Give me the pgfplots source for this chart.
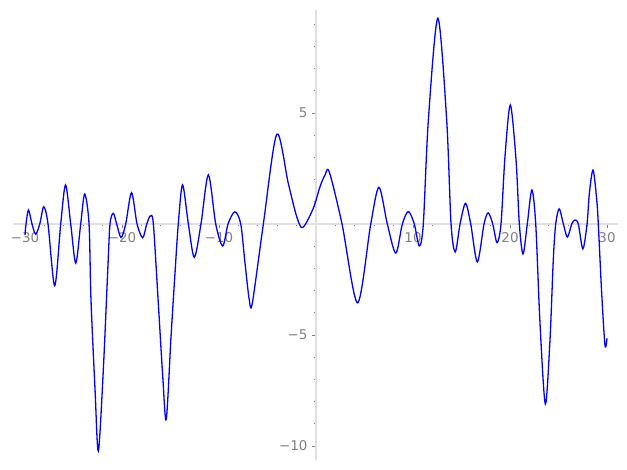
\documentclass[border=0pt]{standalone}
\usepackage{pgfplots}
\pgfplotsset{compat=1.18}
\usepackage{fontspec}
\setmainfont{DejaVu Sans}
\begin{document}
\begin{tikzpicture}
\begin{axis}[
  scale only axis, width=605.6bp, height=450bp,
  xmin=-31.26, xmax=31.17, ymin=-10.63, ymax=9.64,
  axis lines=middle,
  axis line style={draw=black!12, line width=1.2bp, -},
  every inner x axis line/.append style={-},
  every inner y axis line/.append style={-},
  xtick={-30,-20,-10,10,20,30}, xticklabels={−30,−20,−10,10,20,30},
  ytick={-10,-5,5}, yticklabels={−10,−5,5},
  minor xtick={-30,-28,...,30}, minor ytick={-10,-9,...,9},
  tick align=outside,
  major tick length=4bp, minor tick length=2.5bp,
  tick style={draw=gray, line width=0.7bp},
  ticklabel style={font=\fontsize{13.5}{15}\selectfont, text=gray},
  xticklabel style={yshift=-1.5bp},
  yticklabel style={xshift=-1bp},
  clip=false,
]
\path (axis cs:-32.58,-11.08) rectangle (axis cs:32.06,10.09);
\addplot[blue, line width=1.3bp, smooth, tension=0.5] coordinates {
(-30.00,-0.50) (-29.90,0) (-29.64,0.63) (-29.28,0) (-28.90,-0.46) (-28.48,0)
(-28.07,0.78) (-27.63,0) (-26.94,-2.78) (-26.32,0) (-25.82,1.76) (-25.29,0)
(-24.77,-1.76) (-24.26,0) (-23.85,1.35) (-23.40,0) (-23.20,-3.42) (-22.78,-7.48)
(-22.44,-10.23) (-21.93,-6.58) (-21.47,-2.07) (-21.24,0) (-20.90,0.48) (-20.55,0)
(-20.10,-0.61) (-19.62,0) (-19.02,1.41) (-18.45,0) (-17.87,-0.62) (-17.45,0)
(-17.08,0.36) (-16.77,0) (-16.26,-3.57) (-15.80,-6.88) (-15.44,-8.80) (-14.95,-5.08)
(-14.54,-2.22) (-14.20,0) (-13.76,1.76) (-13.16,0) (-12.55,-1.50) (-11.86,0)
(-11.10,2.21) (-10.34,0) (-9.62,-0.99) (-9.07,0) (-8.37,0.55) (-7.76,0)
(-7.32,-1.77) (-6.88,-3.42) (-6.57,-3.57) (-5.43,0) (-4.05,4.04) (-2.86,1.83)
(-1.99,0.33) (-1.37,-0.16) (-0.28,0.71) (0.41,1.68) (0.93,2.21) (1.37,2.34)
(2.68,0) (4.28,-3.55) (5.64,0) (6.49,1.65) (7.35,0) (8.22,-1.31)
(8.90,0) (9.52,0.56) (10.13,0) (10.65,-0.99) (11.06,0) (11.58,4.68)
(12.56,9.27) (13.47,4.68) (13.92,0) (14.35,-1.26) (14.85,0) (15.41,0.93)
(15.95,0) (16.63,-1.71) (17.32,0) (17.75,0.50) (18.22,0) (18.66,-0.84)
(19.07,0) (19.48,3.03) (20.03,5.36) (20.62,2.88) (20.96,0) (21.34,-1.35)
(21.78,0) (22.25,1.53) (22.65,0) (23.09,-4.47) (23.64,-8.11) (24.12,-5.22)
(24.46,-1.62) (24.71,0) (25.07,0.68) (25.50,0) (25.91,-0.59) (26.36,0)
(26.68,0.18) (27.04,0) (27.51,-1.12) (27.94,0) (28.18,1.38) (28.56,2.43)
(28.94,1.08) (29.10,0) (29.45,-3.12) (29.79,-5.47) (30.00,-5.15)
};
\end{axis}
\end{tikzpicture}
\end{document}
